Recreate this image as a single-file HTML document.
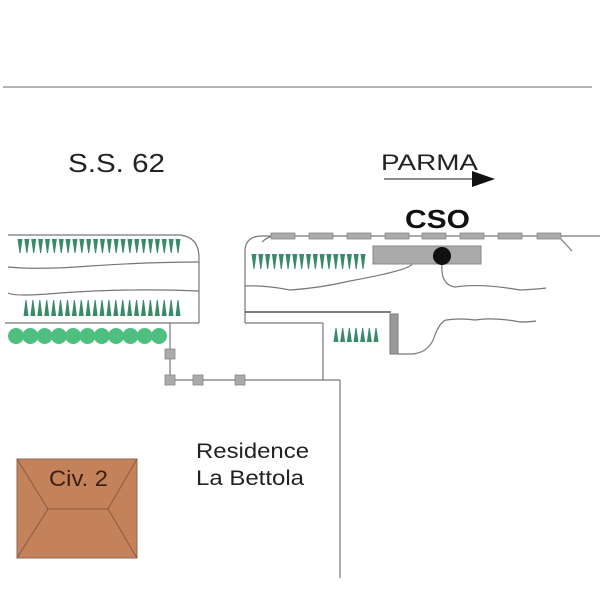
<!DOCTYPE html>
<html><head><meta charset="utf-8"><style>
html,body{margin:0;padding:0;background:#fff;width:600px;height:600px;overflow:hidden}
svg{display:block}
text{font-family:"Liberation Sans",sans-serif}
</style></head><body>
<svg id="s" width="600" height="600" viewBox="0 0 600 600" xmlns="http://www.w3.org/2000/svg">
<line x1="3" y1="87" x2="592" y2="87" stroke="#888" stroke-width="1.2"/>
<text x="68" y="172" font-size="26" fill="#222" textLength="97" lengthAdjust="spacingAndGlyphs">S.S. 62</text>
<text x="381" y="170" font-size="22" fill="#222" textLength="97" lengthAdjust="spacingAndGlyphs">PARMA</text>
<line x1="384" y1="179" x2="476" y2="179" stroke="#666" stroke-width="1.5"/>
<polygon points="472,171 495,179 472,187" fill="#111"/>
<text x="405" y="228" font-size="26" font-weight="bold" fill="#111" textLength="65" lengthAdjust="spacingAndGlyphs">CSO</text>
<g fill="none" stroke="#777" stroke-width="1.2">
<path d="M8,235 H180 Q199,237 199,258 V323"/>
<line x1="5" y1="323" x2="199" y2="323"/>
<path d="M8,267 Q40,270 90,266 Q150,262 199,262"/>
<path d="M8,293 Q15,297 60,293 Q130,288 199,291"/>
<path d="M245,323 V250 Q246,236 262,236 H600"/>
<path d="M262,242 Q266,238 272,236"/>
<path d="M560,238 L572,251"/>
<path d="M245,286 Q265,285 290,290 Q320,288 350,281 Q410,270 412,264"/>
<path d="M442,262 Q440,285 455,287 Q480,283 520,290 Q540,289 546,288"/>
<line x1="245" y1="323" x2="323" y2="323"/>
<line x1="323" y1="323" x2="323" y2="380"/>
<line x1="170" y1="323" x2="170" y2="380"/>
<line x1="170" y1="380" x2="340" y2="380"/>
<line x1="340" y1="380" x2="340" y2="578"/>
<path d="M398,354 H413 Q430,352 435,335 Q440,322 446,320 Q460,318 475,320 Q495,317 520,322 Q530,322 536,321"/>
</g>
<line x1="245" y1="312" x2="391" y2="312" stroke="#333" stroke-width="1.2"/>
<g id="dash" fill="#aaa" stroke="#888" stroke-width="0.8"></g>
<rect x="373" y="246" width="108" height="18" fill="#aaa" stroke="#888"/>
<circle cx="442" cy="256" r="9" fill="#111"/>
<rect x="390" y="314" width="8" height="40" fill="#999" stroke="#777"/>
<g id="trees" fill="#3a8a6a"></g>
<g id="bush" fill="#4fbf80"></g>
<g fill="#aaa" stroke="#888" stroke-width="0.8">
<rect x="165" y="349" width="10" height="10"/>
<rect x="165" y="375" width="10" height="10"/>
<rect x="193" y="375" width="10" height="10"/>
<rect x="235" y="375" width="10" height="10"/>
</g>
<text x="196" y="458" font-size="21" fill="#222" textLength="113" lengthAdjust="spacingAndGlyphs">Residence</text>
<text x="196" y="485" font-size="21" fill="#222" textLength="108" lengthAdjust="spacingAndGlyphs">La Bettola</text>
<rect x="17" y="459" width="120" height="99" fill="#c4825a" stroke="#8a6a55" stroke-width="1"/>
<g stroke="#8a5a40" stroke-width="1" fill="none">
<line x1="17" y1="459" x2="48" y2="509"/>
<line x1="137" y1="459" x2="108" y2="509"/>
<line x1="48" y1="509" x2="108" y2="509"/>
<line x1="48" y1="509" x2="17" y2="558"/>
<line x1="108" y1="509" x2="137" y2="558"/>
</g>
<text x="49" y="486" font-size="22" fill="#3a2010" textLength="59" lengthAdjust="spacingAndGlyphs">Civ. 2</text>
</svg>
<script>
var ns="http://www.w3.org/2000/svg";
function el(p,t,a){var e=document.createElementNS(ns,t);for(var k in a)e.setAttribute(k,a[k]);document.getElementById(p).appendChild(e);}
[271,309,347,385,422,460,498,537].forEach(function(x){el("dash","rect",{x:x,y:233,width:24,height:6});});
function down(x0,x1,y,h,n){for(var i=0;i<n;i++){var x=x0+(x1-x0)*i/(n-1);el("trees","polygon",{points:(x-2.5)+","+y+" "+(x+2.5)+","+y+" "+(x+0.5)+","+(y+h)+" "+(x-0.5)+","+(y+h)});}}
function up(x0,x1,y,h,n){for(var i=0;i<n;i++){var x=x0+(x1-x0)*i/(n-1);el("trees","polygon",{points:(x-2.5)+","+y+" "+(x+2.5)+","+y+" "+(x+0.5)+","+(y-h)+" "+(x-0.5)+","+(y-h)});}}
down(20,178,239,14,24);
up(26,178,316,16,23);
down(254,363,254,15,17);
up(336,376,342,14,7);
for(var i=0;i<11;i++){el("bush","circle",{cx:16+i*14.3,cy:336,r:8});}
</script>
</body></html>
